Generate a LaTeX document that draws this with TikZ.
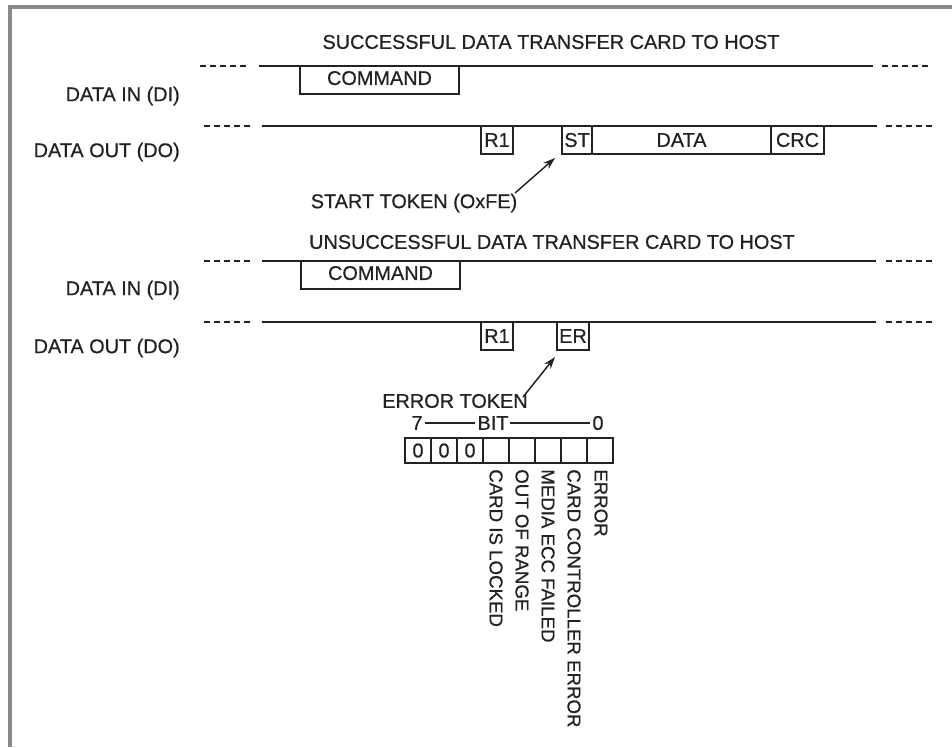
\documentclass[tikz,border=0pt]{standalone}
\usepackage{fontspec}
\setmainfont{Liberation Sans}[FakeBold=0.6]
\usetikzlibrary{arrows.meta}
\definecolor{ink}{HTML}{222222}
\definecolor{frame}{HTML}{8A8A8A}
\tikzset{
  txt/.style={inner sep=0pt, text=ink, font=\fontsize{14.9}{16}\selectfont},
  vtxt/.style={txt, rotate=-90, anchor=west, font=\fontsize{14.0}{16}\selectfont},
  sig/.style={draw=ink, line width=1.6pt},
  dsh/.style={draw=ink, line width=1.4pt, dash pattern=on 4.5pt off 3pt},
  fld/.style={draw=ink, line width=1.4pt, inner sep=0pt, txt, rectangle},
  cell/.style={draw=ink, line width=1.2pt, inner sep=0pt, txt, rectangle, minimum width=26*0.75pt, minimum height=25*0.75pt},
  ptr/.style={draw=ink, line width=1.1pt, -{Stealth[length=9pt,width=6pt]}},
  rule/.style={draw=ink, line width=1.1pt},
}
\begin{document}
\begin{tikzpicture}[x=0.75pt,y=-0.75pt]
\useasboundingbox (0,0) rectangle (952,747);
% frame (top and left only)
\draw[frame, line width=2.4pt] (10,747) -- (10,7) -- (952,7);

% ---------- successful ----------
\node[txt] (t1) at (551,42) {SUCCESSFUL DATA TRANSFER CARD TO HOST};
\node[txt, anchor=east] (l1) at (180,96) {DATA IN (DI)};
\node[txt, anchor=east] (l2) at (180,152) {DATA OUT (DO)};

\coordinate (a1) at (200,66); \coordinate (a2) at (248,66);
\coordinate (a3) at (259,66); \coordinate (a4) at (873,66);
\coordinate (a5) at (882,66); \coordinate (a6) at (930,66);
\draw[dsh] (a1) -- (a2);
\draw[sig] (a3) -- (a4);
\draw[dsh] (a5) -- (a6);
\node[fld, minimum width=159*0.75pt, minimum height=28*0.75pt] (cmd1) at (379.5,80) {};
\node[txt] at (cmd1.center) {\raisebox{3pt}{COMMAND}};

\coordinate (b1) at (204,126); \coordinate (b2) at (251,126);
\coordinate (b3) at (262,126); \coordinate (b4) at (877,126);
\coordinate (b5) at (886,126); \coordinate (b6) at (933,126);
\draw[dsh] (b1) -- (b2);
\draw[sig] (b3) -- (b4);
\draw[dsh] (b5) -- (b6);
\node[fld, minimum width=32*0.75pt, minimum height=28*0.75pt] (r1a) at (497,140) {R1};
\node[fld, minimum width=30*0.75pt, minimum height=28*0.75pt] (st) at (577,140) {ST};
\node[fld, minimum width=179*0.75pt, minimum height=28*0.75pt] (data) at (681.5,140) {DATA};
\node[fld, minimum width=53*0.75pt, minimum height=28*0.75pt] (crc) at (797.5,140) {CRC};

\node[txt] (stl) at (414,203) {START TOKEN (OxFE)};
\coordinate (p1) at (515,193);
\coordinate (p2) at (555,158);
\draw[ptr] (p1) -- (p2);

% ---------- unsuccessful ----------
\node[txt] (t2) at (552,242) {UNSUCCESSFUL DATA TRANSFER CARD TO HOST};
\node[txt, anchor=east] (l3) at (180,290) {DATA IN (DI)};
\node[txt, anchor=east] (l4) at (180,348) {DATA OUT (DO)};

\coordinate (c1) at (204,261); \coordinate (c2) at (251,261);
\coordinate (c3) at (262,261); \coordinate (c4) at (876,261);
\coordinate (c5) at (886,261); \coordinate (c6) at (933,261);
\draw[dsh] (c1) -- (c2);
\draw[sig] (c3) -- (c4);
\draw[dsh] (c5) -- (c6);
\node[fld, minimum width=159*0.75pt, minimum height=28*0.75pt] (cmd2) at (380.5,275) {};
\node[txt] at (cmd2.center) {\raisebox{3pt}{COMMAND}};

\coordinate (d1) at (204,322); \coordinate (d2) at (251,322);
\coordinate (d3) at (262,322); \coordinate (d4) at (876,322);
\coordinate (d5) at (886,322); \coordinate (d6) at (933,322);
\draw[dsh] (d1) -- (d2);
\draw[sig] (d3) -- (d4);
\draw[dsh] (d5) -- (d6);
\node[fld, minimum width=32*0.75pt, minimum height=28*0.75pt] (r1b) at (497,336) {R1};
\node[fld, minimum width=32*0.75pt, minimum height=28*0.75pt] (er) at (573,336) {ER};

\node[txt] (erl) at (455,401) {ERROR TOKEN};
\coordinate (q1) at (523,397);
\coordinate (q2) at (555,357);
\draw[ptr] (q1) -- (q2);

% bit header
\node[txt] (b7) at (417,423) {7};
\node[txt] (bit) at (493,423) {BIT};
\node[txt] (b0) at (598,423) {0};
\draw[rule] ([xshift=2pt]b7.east) -- ([xshift=-2pt]bit.west);
\draw[rule] ([xshift=1pt]bit.east) -- ([xshift=-2pt]b0.west);

% bit cells
\node[cell] (k7) at (418,450.5) {0};
\node[cell] (k6) at (444,450.5) {0};
\node[cell] (k5) at (470,450.5) {0};
\node[cell] (k4) at (496,450.5) {};
\node[cell] (k3) at (522,450.5) {};
\node[cell] (k2) at (548,450.5) {};
\node[cell] (k1) at (574,450.5) {};
\node[cell] (k0) at (600,450.5) {};

\node[vtxt] (v4) at (496,469) {CARD IS LOCKED};
\node[vtxt] (v3) at (522,469) {OUT OF RANGE};
\node[vtxt] (v2) at (548,469) {MEDIA ECC FAILED};
\node[vtxt] (v1) at (574,469) {CARD CONTROLLER ERROR};
\node[vtxt] (v0) at (601,469) {ERROR};
\end{tikzpicture}
\end{document}
